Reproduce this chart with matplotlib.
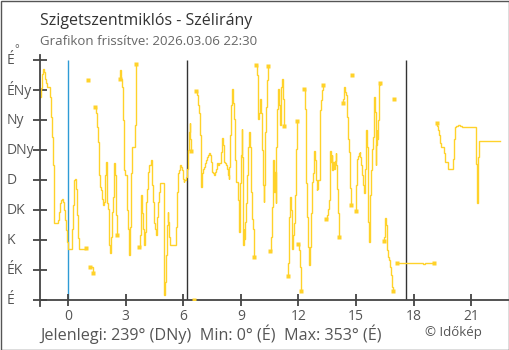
import matplotlib
matplotlib.use("Agg")
import matplotlib.pyplot as plt
import numpy as np
from matplotlib.transforms import blended_transform_factory
from matplotlib.patches import Rectangle

# ---- data: minutes since midnight (Mar 06) and wind direction in degrees ----
minutes = [
    -86, -84, -82, -79, -77, -75, -73, -69, -67, -56, -54, -51, -48, -45, -43, -32, -29, -25, -22, -19,
    -16, -14, -10, -7, -4, -1, 13, 16, 19, 21, 24, 26, 29, 32, 35, 57,
    64,
    70, 79,
    85, 88, 90, 93, 96, 98, 101, 104, 107, 109, 113, 116, 118, 120, 122, 125, 127, 129, 131, 133,
    136, 139, 141, 143, 145, 147, 149, 151, 154,
    163, 164, 167, 170, 172, 174, 176, 179, 183, 185, 189, 190, 192, 194, 197, 199, 209, 212, 214,
    223, 225, 227, 229, 231, 233, 237, 239, 242, 245, 248, 251, 254, 258, 261, 264, 267, 270, 273, 275,
    277, 280, 283, 286, 288, 299, 301, 303, 305, 308, 311, 313, 317, 319, 336, 340, 343, 346, 349, 352,
    355, 358, 361, 364, 368, 371, 374, 377, 380, 382, 385,
    394,
    401, 403, 406, 409, 413, 415, 417, 419, 422, 425, 428, 431, 434, 437, 441, 444, 447, 450, 453, 456,
    460, 463, 466, 469, 473, 478, 482, 484, 487, 490, 493, 496, 500, 502, 504, 507, 510, 513, 516, 519,
    522, 525, 531, 533, 535, 537, 539, 542, 543, 545, 547, 549, 551, 553, 556, 559, 562, 565, 568, 571,
    575, 578, 581, 582,
    589, 591, 593, 595, 597, 600, 603, 606, 609, 611, 614, 617, 620, 623, 626,
    632, 634, 637, 640, 642, 645, 647, 649, 651, 654, 657, 660, 663, 665, 667, 669, 671, 673, 675, 676,
    686, 688, 690, 692, 695, 697, 699, 701, 703, 707, 710, 713, 715, 717,
    720, 722, 725, 727, 729,
    739, 741, 743, 745, 748, 751, 754, 756, 759, 762, 764, 766, 768, 770, 772, 775, 777, 779, 782, 786,
    789, 792, 795, 798,
    805, 807, 810, 813, 816, 818, 820, 822, 824, 826, 828, 830, 833, 836, 838, 841, 844, 846, 848,
    858, 860, 862, 864, 866, 869, 872, 875, 878, 881, 883,
    889,
    899, 901, 903, 906, 909, 911, 914, 917, 920, 923, 926, 928, 930, 932, 934, 936, 938, 940, 943, 945,
    948, 951, 953, 955, 957, 959, 961, 963, 965, 967, 969, 971, 973, 976,
    986, 988, 990, 992, 994, 996, 998, 1001, 1004, 1007, 1010, 1013, 1016,
    1020,
    1029, 1111, 1115, 1143,
    1152, 1154, 1157, 1160, 1163, 1166, 1174, 1177, 1188, 1204, 1206, 1208, 1214, 1220, 1226, 1232,
    1275, 1276, 1278, 1280, 1282, 1284, 1349,
]
direction = [
    305, 318, 339, 346, 347, 342, 332, 325, 319, 305, 275, 245, 202, 145, 116, 120, 132, 145, 150, 152,
    147, 135, 120, 105, 87, 77, 107, 142, 180, 182, 177, 167, 127, 93, 77, 78,
    330,
    49, 41,
    290, 280, 260, 237, 212, 187, 170, 165, 152, 142, 147, 187, 195, 207, 145, 137, 95, 82, 70, 95,
    107, 132, 155, 187, 205, 187, 157, 127, 98,
    331, 345, 332, 320, 270, 215, 195, 187, 172, 135, 107, 92, 67, 110, 190, 230, 262, 322, 354,
    80, 97, 137, 157, 130, 107, 90, 82, 102, 147, 167, 192, 202, 210, 187, 172, 147, 115, 107, 97,
    125, 147, 162, 170, 176, 92, 7, 27, 67, 112, 132, 117, 95, 82, 110, 162, 190, 195, 202, 200,
    195, 182, 177, 180, 185, 197, 225, 252, 265, 242, 224,
    0,
    314, 307, 292, 280, 247, 195, 170, 190, 197, 200, 205, 210, 215, 218, 220, 217, 207, 192, 191, 187,
    192, 197, 205, 203, 205, 222, 243, 233, 207, 205, 202, 197, 187, 181, 200, 247, 292, 317, 295, 272,
    210, 177, 150, 127, 102, 105, 175, 217, 257, 215, 82, 107, 92, 117, 145, 187, 230, 252, 230, 162,
    122, 107, 82, 65,
    353, 337, 305, 272, 280, 302, 280, 225, 172, 147, 172, 252, 290, 330, 351,
    73, 95, 140, 185, 210, 162, 192, 145, 230, 287, 317, 292, 262, 312, 320, 332, 317, 302, 277, 261,
    36, 55, 95, 125, 155, 135, 97, 77, 97, 115, 157, 227, 267, 268,
    84, 75, 50, 27, 14,
    317, 287, 227, 175, 125, 80, 53, 80, 130, 157, 177, 190, 212, 223, 210, 180, 165, 167, 180, 247,
    285, 300, 315, 323,
    121, 122, 127, 137, 150, 197, 223, 207, 217, 195, 207, 197, 208, 220, 202, 167, 130, 107, 95,
    295, 302, 315, 320, 312, 307, 275, 242, 222, 168, 143,
    337,
    133, 172, 212, 216, 220, 222, 215, 202, 187, 172, 160, 197, 217, 255, 230, 172, 117, 87, 115, 157,
    195, 227, 245, 285, 305, 282, 202, 232, 255, 242, 270, 307, 322, 326,
    88, 95, 112, 123, 112, 95, 75, 65, 60, 50, 37, 20, 13,
    301,
    56, 54, 56, 55,
    266, 261, 255, 247, 235, 230, 220, 207, 197, 212, 242, 260, 261, 262, 261, 260,
    260, 204, 145, 168, 215, 239, 239,
]

dir_ticks = [0, 45, 90, 135, 180, 225, 270, 315, 360]
dir_labels = ["É", "ÉK", "K", "DK", "D", "DNy", "Ny", "ÉNy", "É"]
hour_ticks = [0, 3, 6, 9, 12, 15, 18, 21]
midnight_h = 0.0
sun_lines_h = [6.22, 17.62]

title = "Szigetszentmiklós - Szélirány"
subtitle = "Grafikon frissítve: 2026.03.06 22:30"
stats = "Jelenlegi: 239° (DNy)  Min: 0° (É)  Max: 353° (É)"
credit = "© Időkép"

YELLOW = "#FFD22A"
AXC = "#444444"

plt.rcParams['font.family'] = ['Open Sans', 'DejaVu Sans']

W, H = 510, 350
fig = plt.figure(figsize=(W / 100, H / 100), dpi=100)
fig.patch.set_facecolor("white")
ax = fig.add_axes([40.5 / W, 50 / H, 468.5 / W, 245 / H])
ax.set_xlim(-1.432, 22.97)
ax.set_ylim(0, 367.5)

# vertical reference lines
ax.vlines([midnight_h], 0, 360, color="#2E9BD6", lw=1.0, zorder=1.5)
ax.vlines(sun_lines_h, 0, 360, color="#333333", lw=1.0, zorder=1.5)

t = np.array(minutes, dtype=float) / 60.0
d = np.array(direction, dtype=float)
breaks = np.where(np.abs(np.diff(d)) > 180)[0] + 1
seg_t = np.split(t, breaks)
seg_d = np.split(d, breaks)
n = len(seg_t)
for i, (st, sd) in enumerate(zip(seg_t, seg_d)):
    ax.plot(st, sd, drawstyle="steps-post", color=YELLOW, lw=1.0, zorder=2,
            solid_joinstyle="miter")
    mk = []
    if i > 0:
        mk.append(0)
    if i < n - 1:
        mk.append(len(st) - 1)
    mk = sorted(set(mk))
    if mk:
        ax.plot(st[mk], sd[mk], "s", ms=3.2, color=YELLOW, mec="none", zorder=3)

for s in ["top", "right"]:
    ax.spines[s].set_visible(False)
for s in ["left", "bottom"]:
    ax.spines[s].set_color(AXC)
    ax.spines[s].set_linewidth(1.3)
ax.spines["left"].set_bounds(-9, 367.5)

ax.set_xticks(hour_ticks)
ax.set_xticklabels([str(h) for h in hour_ticks])
ax.tick_params(axis="x", direction="inout", length=9, width=1.3, color=AXC,
               labelcolor="#555555", labelsize=10, pad=2)
ax.set_yticks(dir_ticks)
ax.set_yticklabels([])
ax.tick_params(axis="y", direction="inout", length=9.5, width=1.3, color=AXC)

tr = blended_transform_factory(fig.transFigure, ax.transData)
for v, lab in zip(dir_ticks, dir_labels):
    ax.text(7 / W, v, lab, transform=tr, ha="left", va="center", fontsize=10,
            color="#555555")
fig.text(14.5 / W, 1 - 50 / H, "°", ha="left", va="center", fontsize=8, color="#555555")

fig.text(40 / W, 1 - 25 / H, title, ha="left", va="baseline", fontsize=11.5, color="#333333")
fig.text(40 / W, 1 - 45 / H, subtitle, ha="left", va="baseline", fontsize=9.5, color="#666666")
fig.text(40 / W, 1 - 340 / H, stats, ha="left", va="baseline", fontsize=11.6, color="#555555")
fig.text(425 / W, 1 - 336 / H, credit, ha="left", va="baseline", fontsize=9.5, color="#555555")

fig.add_artist(Rectangle((0.5 / W, 0.5 / H), 1 - 1.5 / W, 1 - 1.5 / H, transform=fig.transFigure,
                         fill=False, edgecolor="#555555", lw=1.0))

fig.savefig("out.png", dpi=100, facecolor="white")
